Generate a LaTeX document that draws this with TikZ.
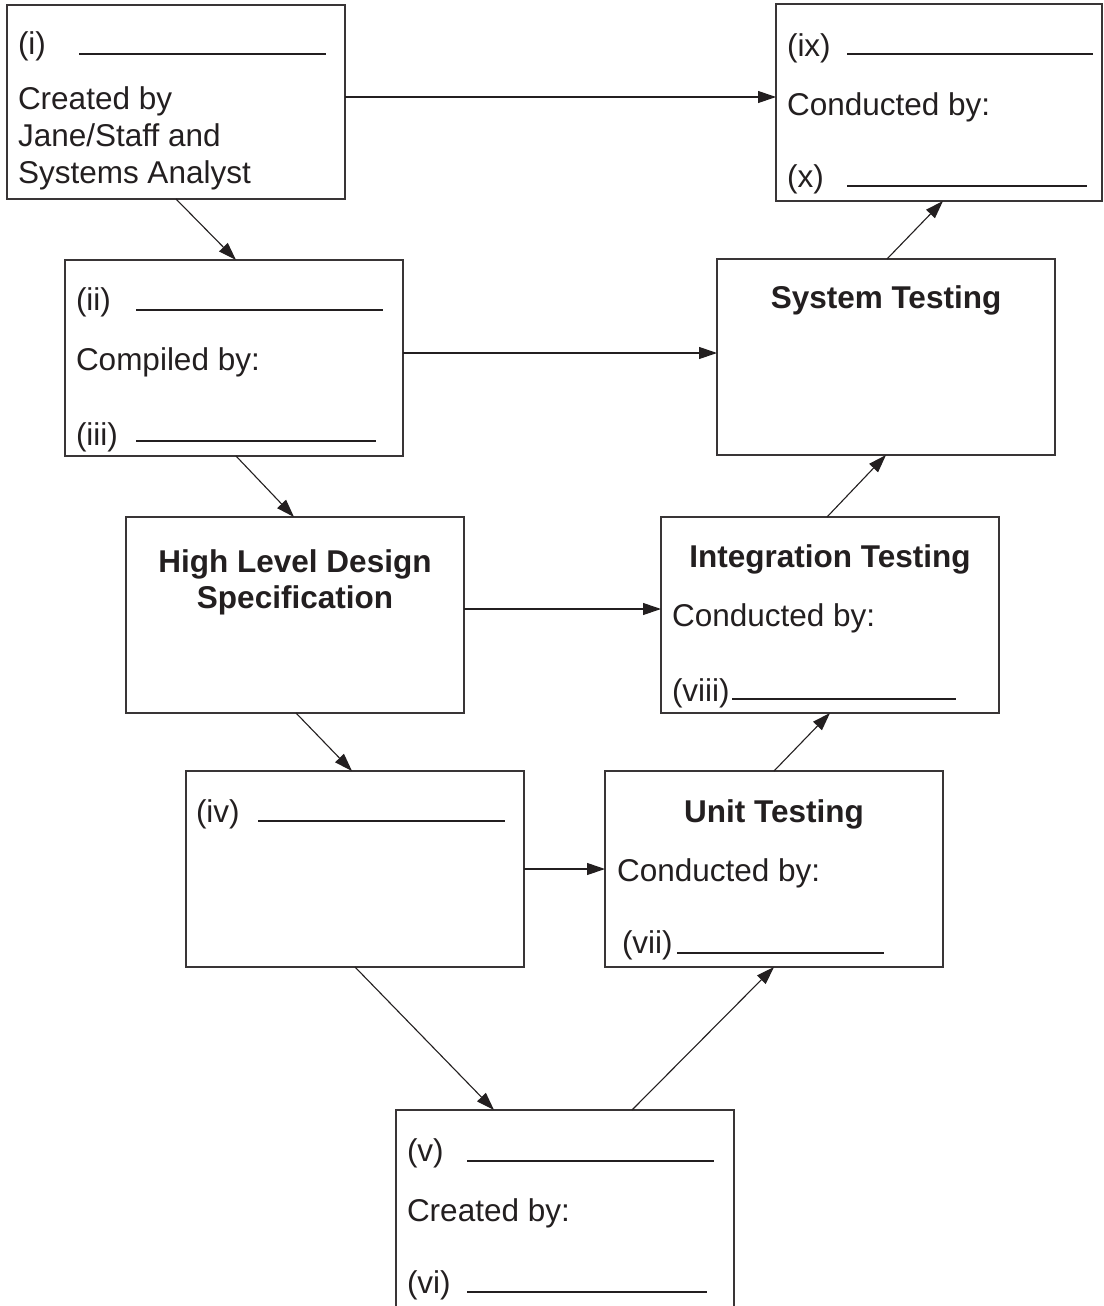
\documentclass[tikz,border=0pt]{standalone}
\usepackage{fontspec}
\setmainfont{Liberation Sans}
\usetikzlibrary{arrows.meta,calc}
\definecolor{ink}{HTML}{231F20}
\begin{document}
\begin{tikzpicture}[x=1pt,y=-1pt,
  every node/.style={inner sep=0pt,outer sep=0pt},
  box/.style={draw=ink!90,line width=1.3pt,anchor=north west,minimum width=338pt,minimum height=196pt},
  txt/.style={anchor=base west,text=ink,font=\fontsize{31.5}{37}\selectfont},
  head/.style={anchor=base,text=ink,font=\fontsize{31.5}{36}\selectfont\bfseries,align=center},
  blank/.style={draw=ink,line width=1.1pt},
  conn/.style={draw=ink,line width=1.1pt,-{Triangle[length=18pt,width=12pt]}}]
\useasboundingbox (0,0) rectangle (1103,1306);
\clip (0,0) rectangle (1103,1306);
\fill[white] (0,0) rectangle (1103,1306);
% boxes
\node[box,minimum height=194pt] (b1) at (7,5) {};
\node[box,minimum width=326pt,minimum height=197pt] (b9) at (776,4) {};
\node[box] (b2) at (65,260) {};
\node[box] (bST) at (717,259) {};
\node[box] (bHL) at (126,517) {};
\node[box] (bIT) at (661,517) {};
\node[box] (b4) at (186,771) {};
\node[box] (bUT) at (605,771) {};
\node[box,minimum height=230pt] (b5) at (396,1110) {};
% box 1
\node[txt] (t1) at (18,55) {(i)};
\draw[blank] (79,54) -- (326,54);
\node[txt] (t1a) at (18,109) {Created by};
\node[txt] (t1b) at (18,146) {Jane/Staff and};
\node[txt] (t1c) at (18,183) {Systems Analyst};
% box ix
\node[txt] (t9) at (787,57) {(ix)};
\draw[blank] (847,54) -- (1093,54);
\node[txt] (t9a) at (787,115) {Conducted by:};
\node[txt] (t10) at (787,187) {(x)};
\draw[blank] (847,186) -- (1087,186);
% box ii
\node[txt] (t2) at (76,310) {(ii)};
\draw[blank] (136,310) -- (383,310);
\node[txt] (t2a) at (76,370) {Compiled by:};
\node[txt] (t3) at (76,445) {(iii)};
\draw[blank] (136,441) -- (376,441);
% system testing
\node[head] (tST) at (886,308) {System Testing};
% high level design
\node[head] (tHL1) at (295,572) {High Level Design};
\node[head] (tHL2) at (295,608) {Specification};
% integration testing
\node[head] (tIT) at (830,567) {Integration Testing};
\node[txt] (tITa) at (672,626) {Conducted by:};
\node[txt] (t8) at (672,701) {(viii)};
\draw[blank] (732,699) -- (956,699);
% box iv
\node[txt] (t4) at (196,822) {(iv)};
\draw[blank] (258,821) -- (505,821);
% unit testing
\node[head] (tUT) at (774,822) {Unit Testing};
\node[txt] (tUTa) at (617,881) {Conducted by:};
\node[txt] (t7) at (622,953) {(vii)};
\draw[blank] (677,953) -- (884,953);
% box v
\node[txt] (t5) at (407,1161) {(v)};
\draw[blank] (467,1161) -- (714,1161);
\node[txt] (t5a) at (407,1221) {Created by:};
\node[txt] (t6) at (407,1293) {(vi)};
\draw[blank] (467,1292) -- (707,1292);
% connectors
\draw[conn] ($(b1.north east)+(0,92)$) -- ($(b9.north west)+(0,93)$);
\draw[conn] ($(b1.south west)+(169,0)$) -- ($(b2.north west)+(171,0)$);
\draw[conn] ($(b2.north east)+(0,93)$) -- ($(bST.north west)+(0,94)$);
\draw[conn] ($(b2.south west)+(171,0)$) -- ($(bHL.north west)+(168,0)$);
\draw[conn] ($(bHL.north east)+(0,92)$) -- ($(bIT.north west)+(0,92)$);
\draw[conn] ($(bHL.south west)+(170,0)$) -- ($(b4.north west)+(166,0)$);
\draw[conn] ($(b4.north east)+(0,98)$) -- ($(bUT.north west)+(0,98)$);
\draw[conn] ($(b4.south west)+(169,0)$) -- ($(b5.north west)+(98,0)$);
\draw[conn] ($(b5.north west)+(236,0)$) -- ($(bUT.south west)+(169,0)$);
\draw[conn] ($(bUT.north west)+(169,0)$) -- ($(bIT.south west)+(169,0)$);
\draw[conn] ($(bIT.north west)+(166,0)$) -- ($(bST.south west)+(169,0)$);
\draw[conn] ($(bST.north west)+(170,0)$) -- ($(b9.south west)+(167,0)$);
\end{tikzpicture}
\end{document}
